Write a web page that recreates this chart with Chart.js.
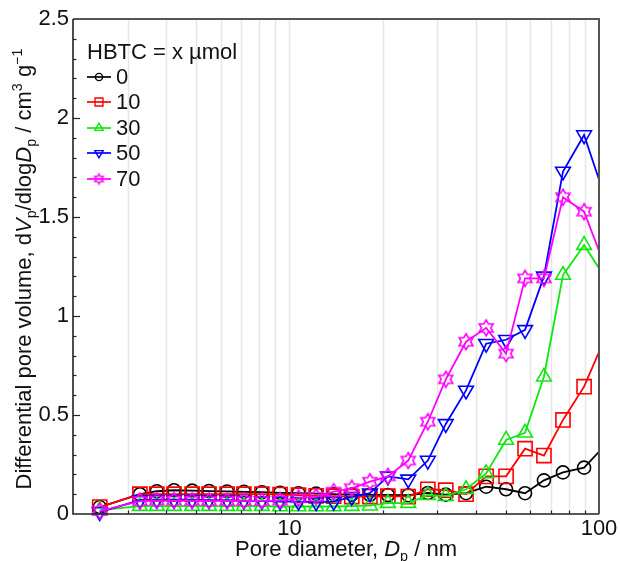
<!DOCTYPE html>
<html>
<head>
<meta charset="utf-8">
<script src="https://cdn.jsdelivr.net/npm/chart.js@4.4.1/dist/chart.umd.min.js"></script>
<style>
    html, body { margin: 0; padding: 0; background: #fff; }
    #wrap { width: 620px; height: 561px; }
</style>
</head>
<body>
<div id="wrap"><canvas id="psdChart" width="620" height="561"></canvas></div>
<script>
// Pore diameter (nm) of each measured point
const poreDiameter = [2.44, 3.29, 3.73, 4.24, 4.85, 5.50, 6.29, 7.13, 8.15, 9.33, 10.7, 12.2, 13.9,
    15.9, 18.2, 20.8, 24.2, 28.0, 32.0, 37.2, 43.2, 50.1, 57.7, 66.4, 76.5, 89.5, 104];

// dVp/dlogDp (cm3 g-1) for each HBTC amount
const hbtc0 = [0.035, 0.10, 0.115, 0.12, 0.118, 0.116, 0.114, 0.112, 0.11, 0.107, 0.105, 0.103, 0.10,
    0.098, 0.097, 0.096, 0.095, 0.106, 0.098, 0.105, 0.138, 0.125, 0.105, 0.17, 0.21, 0.234, 0.343];
const hbtc10 = [0.035, 0.10, 0.10, 0.10, 0.10, 0.10, 0.10, 0.10, 0.10, 0.098, 0.095, 0.092, 0.09,
    0.088, 0.088, 0.09, 0.088, 0.125, 0.12, 0.10, 0.19, 0.19, 0.33, 0.295, 0.475, 0.643, 0.88];
const hbtc30 = [0.02, 0.04, 0.04, 0.04, 0.04, 0.04, 0.04, 0.04, 0.04, 0.038, 0.038, 0.038, 0.038,
    0.04, 0.042, 0.055, 0.055, 0.095, 0.09, 0.125, 0.205, 0.374, 0.41, 0.693, 1.207, 1.358, 1.20];
const hbtc50 = [0.01, 0.07, 0.072, 0.072, 0.072, 0.07, 0.07, 0.068, 0.066, 0.064, 0.062, 0.06, 0.062,
    0.087, 0.105, 0.19, 0.175, 0.27, 0.455, 0.624, 0.86, 0.88, 0.93, 1.2, 1.73, 1.914, 1.61];
const hbtc70 = [0.015, 0.065, 0.068, 0.068, 0.067, 0.066, 0.066, 0.066, 0.066, 0.068, 0.08, 0.087, 0.113,
    0.13, 0.163, 0.19, 0.27, 0.466, 0.68, 0.87, 0.94, 0.81, 1.19, 1.19, 1.60, 1.527, 1.26];

const seriesLabels = ['0', '10', '30', '50', '70'];
const yTicks = [0, 0.5, 1, 1.5, 2, 2.5];
const xTickLabels = [10, 100];

const FONT = "'Liberation Sans', Arial, sans-serif";
const FONT_SIZE = 22;
const X_MAX = 100;

/**
 * Open six-pointed star used as marker
 */
function makeStar(color, r, lw) {
    const s = Math.ceil(2 * r + 2 * lw + 2);
    const c = document.createElement('canvas');
    c.width = s;
    c.height = s;
    const g = c.getContext('2d');
    g.strokeStyle = color;
    g.lineWidth = lw;
    g.beginPath();
    for (let i = 0; i < 12; i++) {
        const a = -Math.PI / 2 + i * Math.PI / 6;
        const rad = i % 2 === 0 ? r : r / Math.sqrt(3);
        const px = s / 2 + rad * Math.cos(a);
        const py = s / 2 + rad * Math.sin(a);
        if (i === 0) g.moveTo(px, py); else g.lineTo(px, py);
    }
    g.closePath();
    g.stroke();
    return c;
}

const starBig = makeStar('#ff00ff', 8, 1.6);
const starSmall = makeStar('#ff00ff', 5, 1.4);

const styles = [
    { color: '#000000', style: 'circle', radius: 6.5, rot: 0, legendStyle: 'circle', legendRadius: 3.6, order: 5, data: hbtc0 },
    { color: '#ff0000', style: 'rect', radius: 10, rot: 0, legendStyle: 'rect', legendRadius: 5.6, order: 4, data: hbtc10 },
    { color: '#11e611', style: 'triangle', radius: 8.5, rot: 0, legendStyle: 'triangle', legendRadius: 4.8, order: 3, data: hbtc30 },
    { color: '#0000ff', style: 'triangle', radius: 8.5, rot: 180, legendStyle: 'triangle', legendRadius: 4.8, order: 2, data: hbtc50 },
    { color: '#ff00ff', style: starBig, radius: 8, rot: 0, legendStyle: starSmall, legendRadius: 5, order: 1, data: hbtc70 }
];

const datasets = styles.map((s, i) => ({
    label: seriesLabels[i],
    data: poreDiameter.map((d, j) => ({ x: d, y: s.data[j] })),
    borderColor: s.color,
    backgroundColor: 'rgba(0,0,0,0)',
    borderWidth: 1.8,
    pointStyle: s.style,
    // no marker for the point past the axis end, only its line segment
    pointRadius: c => (c.raw && c.raw.x > X_MAX ? 0 : s.radius),
    pointRotation: s.rot,
    pointBorderColor: s.color,
    pointBackgroundColor: 'rgba(0,0,0,0)',
    pointBorderWidth: 1.6,
    tension: 0,
    order: s.order,
    clip: { left: 12, top: 12, right: 0, bottom: 12 }
}));

/**
 * Draw text made of runs (italic, sub, sup) centred on cx at baseline by
 */
function drawRuns(ctx, runs, cx, by, size) {
    const fontOf = r => {
        const sz = (r.sub || r.sup) ? size * 0.65 : size;
        return (r.it ? 'italic ' : '') + sz + 'px ' + FONT;
    };
    let total = 0;
    runs.forEach(r => {
        ctx.font = fontOf(r);
        r.w = ctx.measureText(r.t).width;
        total += r.w;
    });
    let px = cx - total / 2;
    ctx.fillStyle = '#111';
    ctx.textAlign = 'left';
    ctx.textBaseline = 'alphabetic';
    runs.forEach(r => {
        ctx.font = fontOf(r);
        let dy = 0;
        if (r.sub) dy = size * 0.22;
        if (r.sup) dy = -size * 0.4;
        ctx.fillText(r.t, px, by + dy);
        px += r.w;
    });
}

/**
 * Frame, light vertical grid, inside ticks, legend and axis titles
 */
const decorPlugin = {
    id: 'decor',
    beforeDatasetsDraw(chart) {
        const { ctx, chartArea: a, scales: { x } } = chart;
        ctx.save();
        ctx.strokeStyle = '#e6e6e6';
        ctx.lineWidth = 1.5;
        [1, 10].forEach(dec => {
            for (let m = 1; m <= 9; m++) {
                const v = m * dec;
                if (v <= 2 || v >= X_MAX) continue;
                const px = Math.round(x.getPixelForValue(v)) + 0.5;
                ctx.beginPath();
                ctx.moveTo(px, a.top);
                ctx.lineTo(px, a.bottom);
                ctx.stroke();
            }
        });
        ctx.restore();
    },
    afterDatasetsDraw(chart) {
        const { ctx, chartArea: a, scales: { x, y } } = chart;
        ctx.save();
        // top and right frame
        ctx.strokeStyle = '#555';
        ctx.lineWidth = 2;
        ctx.beginPath();
        ctx.moveTo(a.left, a.top);
        ctx.lineTo(a.right, a.top);
        ctx.lineTo(a.right, a.bottom);
        ctx.stroke();
        // axes
        ctx.strokeStyle = '#222';
        ctx.lineWidth = 1.6;
        ctx.beginPath();
        ctx.moveTo(a.left, a.top);
        ctx.lineTo(a.left, a.bottom);
        ctx.lineTo(a.right, a.bottom);
        ctx.stroke();
        // y ticks, minor every 0.1
        ctx.lineWidth = 1.2;
        for (let k = 1; k < 25; k++) {
            const v = k / 10;
            const py = Math.round(y.getPixelForValue(v)) + 0.5;
            const len = k % 5 === 0 ? 7 : 3.5;
            ctx.beginPath();
            ctx.moveTo(a.left, py);
            ctx.lineTo(a.left + len, py);
            ctx.stroke();
        }
        // x ticks
        [1, 10].forEach(dec => {
            for (let m = 2; m <= 10; m++) {
                const v = m * dec;
                if (v <= 2 || v >= X_MAX) continue;
                const px = Math.round(x.getPixelForValue(v)) + 0.5;
                const len = m === 10 ? 7 : 3.5;
                ctx.beginPath();
                ctx.moveTo(px, a.bottom);
                ctx.lineTo(px, a.bottom - len);
                ctx.stroke();
            }
        });
        ctx.restore();
    },
    afterDraw(chart) {
        const { ctx, chartArea: a, scales: { x } } = chart;
        ctx.save();
        ctx.fillStyle = '#111';
        ctx.font = FONT_SIZE + 'px ' + FONT;

        // x tick labels
        ctx.textAlign = 'center';
        ctx.textBaseline = 'middle';
        xTickLabels.forEach(v => {
            ctx.fillText(String(v), x.getPixelForValue(v), a.bottom + 15);
        });

        // legend
        ctx.textAlign = 'left';
        ctx.fillText('HBTC = x \u00b5mol', 87, 53);
        const rowY = [77, 102, 128, 153, 179];
        styles.forEach((s, i) => {
            const ry = rowY[i];
            ctx.strokeStyle = s.color;
            ctx.lineWidth = 1.7;
            ctx.beginPath();
            ctx.moveTo(87, ry);
            ctx.lineTo(111, ry);
            ctx.stroke();
            ctx.fillStyle = 'rgba(0,0,0,0)';
            ctx.lineWidth = 1.4;
            Chart.helpers.drawPoint(ctx, {
                pointStyle: s.legendStyle,
                radius: s.legendRadius,
                rotation: s.rot,
                borderWidth: 1.4
            }, 99, ry);
            ctx.fillStyle = '#111';
            ctx.fillText(seriesLabels[i], 116, ry + 1);
        });

        // x axis title
        drawRuns(ctx, [
            { t: 'Pore diameter, ' },
            { t: 'D', it: true },
            { t: 'p', sub: true },
            { t: ' / nm' }
        ], 346, 556, FONT_SIZE);

        // y axis title
        ctx.save();
        ctx.translate(31, 269);
        ctx.rotate(-Math.PI / 2);
        drawRuns(ctx, [
            { t: 'Differential pore volume, d' },
            { t: 'V', it: true },
            { t: 'p', sub: true },
            { t: '/dlog' },
            { t: 'D', it: true },
            { t: 'p', sub: true },
            { t: ' / cm' },
            { t: '3', sup: true },
            { t: ' g' },
            { t: '\u22121', sup: true }
        ], 0, 0, FONT_SIZE);
        ctx.restore();
        ctx.restore();
    }
};

new Chart(document.getElementById('psdChart'), {
    type: 'line',
    data: { datasets: datasets },
    options: {
        responsive: false,
        animation: false,
        layout: { padding: { left: 0, top: 19, right: 21, bottom: 0 } },
        plugins: {
            legend: { display: false },
            tooltip: { enabled: false }
        },
        scales: {
            x: {
                type: 'logarithmic',
                min: 2,
                max: X_MAX,
                grid: { display: false, drawTicks: false },
                border: { display: false },
                afterBuildTicks: s => { s.ticks = xTickLabels.map(v => ({ value: v })); },
                afterFit: s => { s.height = 47; },
                ticks: { display: false }
            },
            y: {
                min: 0,
                max: 2.5,
                grid: { display: false, drawTicks: false },
                border: { display: false },
                afterBuildTicks: s => { s.ticks = yTicks.map(v => ({ value: v })); },
                afterFit: s => { s.width = 73; },
                ticks: {
                    padding: 4,
                    color: '#111',
                    font: { family: FONT, size: FONT_SIZE },
                    callback: v => String(v)
                }
            }
        }
    },
    plugins: [decorPlugin]
});
</script>
</body>
</html>
